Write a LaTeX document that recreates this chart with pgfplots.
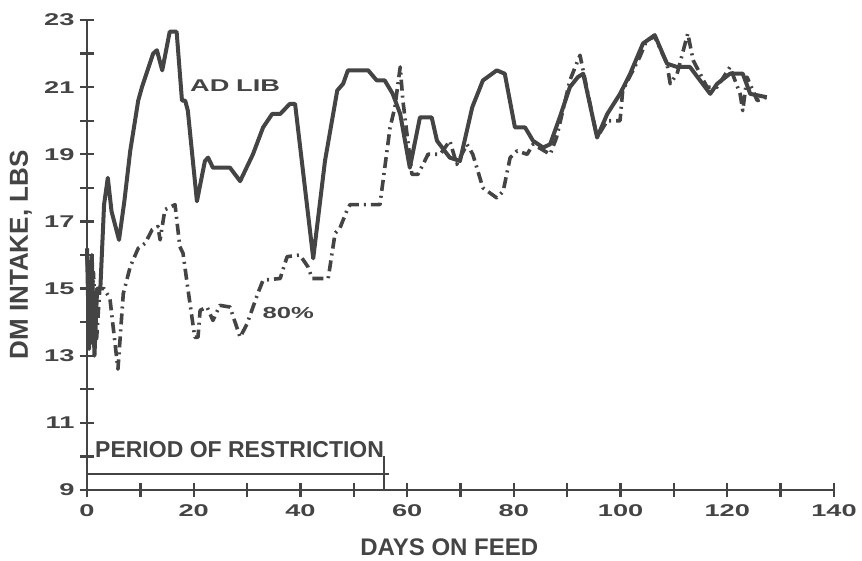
\documentclass[border=0pt]{standalone}
\usepackage{pgfplots}
\pgfplotsset{compat=1.18}
\usepackage{fontspec}
\setmainfont{Liberation Sans}
\newfontfamily\tickfont{Liberation Sans}[FakeStretch=1.6]
\definecolor{ink}{HTML}{444444}

% AD LIB (solid)
\pgfplotstableread{
d v
0 16.2
0.4 13.2
0.9 16.0
1.4 13.0
1.9 15.0
2.5 15.0
3.2 17.5
3.9 18.3
4.6 17.3
6.0 16.45
7.0 17.6
8.1 19.1
9.6 20.6
10.3 21.0
12.4 22.0
13.1 22.1
14.1 21.5
15.5 22.65
16.8 22.65
17.8 20.6
18.4 20.6
18.9 20.3
20.6 17.6
22.1 18.8
22.7 18.9
23.6 18.6
26.8 18.6
28.7 18.2
31.1 19.0
33.0 19.8
34.7 20.2
36.2 20.2
38.0 20.5
39.0 20.5
42.4 15.9
44.6 18.8
46.9 20.9
48.0 21.1
48.9 21.5
52.7 21.5
54.3 21.2
55.8 21.2
57.3 20.8
58.7 20.2
60.5 18.6
62.4 20.1
64.6 20.1
65.6 19.4
68.0 18.9
69.9 18.8
72.2 20.4
74.2 21.2
76.8 21.5
78.3 21.4
80.2 19.8
82.1 19.8
83.6 19.4
85.5 19.2
86.8 19.3
88.6 20.1
90.5 21.0
92.0 21.3
93.0 21.4
95.6 19.5
97.5 20.2
99.9 20.8
101.8 21.4
104.2 22.3
106.4 22.55
108.7 21.7
110.6 21.6
113.0 21.6
114.9 21.2
116.8 20.8
118.1 21.1
120.5 21.4
122.9 21.4
124.3 20.8
127.4 20.7
}\adlib

% 80% (dash-dot)
\pgfplotstableread{
d v
0 16.0
0.6 13.3
1.2 15.5
1.8 13.5
2.4 15.0
3.2 15.0
4.3 14.7
5.8 12.6
6.8 14.85
8.1 15.65
9.6 16.2
10.9 16.35
12.2 16.75
13.3 16.85
13.7 16.45
14.6 17.35
16.5 17.5
17.4 16.25
18.0 16.05
18.9 15.0
20.2 13.55
20.8 13.55
21.2 14.35
22.5 14.45
23.6 14.05
24.9 14.5
26.8 14.45
28.7 13.55
30.0 13.95
32.0 14.85
33.0 15.25
36.2 15.3
37.5 15.95
39.9 16.0
41.4 15.65
42.2 15.3
45.2 15.3
46.5 16.65
47.4 16.8
48.9 17.4
49.3 17.5
54.9 17.5
56.8 19.8
57.7 20.4
58.7 21.6
59.2 20.6
60.9 18.4
62.0 18.4
63.0 18.7
63.9 19.0
66.2 19.0
68.0 19.4
69.3 18.7
71.2 19.3
72.3 19.0
74.2 18.0
76.8 17.7
78.0 17.9
79.3 18.9
80.6 19.1
82.5 19.0
83.6 19.3
86.8 19.0
88.0 19.5
90.5 21.2
91.5 21.6
92.4 21.95
94.8 20.1
95.6 19.5
97.5 20.0
99.9 20.0
100.4 20.9
103.6 21.9
104.9 22.4
106.4 22.5
108.7 21.7
109.3 21.1
110.6 21.4
112.6 22.6
113.6 21.8
116.2 21.0
118.1 21.0
120.5 21.6
122.4 20.8
122.9 20.3
123.7 21.3
125.6 20.6
127.4 20.7
}\restricted

\begin{document}
\begin{tikzpicture}[every node/.style={text=ink}]
\begin{axis}[
    scale only axis,
    width=747pt, height=470pt,
    xmin=0, xmax=140, ymin=9, ymax=23,
    axis lines*=left,
    axis line style={ink, line width=2.6pt},
    xtick={0,20,...,140},
    minor xtick={10,30,...,130},
    ytick={9,11,...,23},
    minor ytick={10,12,...,22},
    tick align=center,
    major tick length=14pt, minor tick length=14pt,
    tick style={ink, line width=2.4pt},
    /pgf/number format/assume math mode=true,
    ticklabel style={font=\tickfont\bfseries\fontsize{17}{17}\selectfont, text=ink},
    xticklabel style={yshift=-4pt},
    yticklabel style={xshift=-2pt},
    xlabel={DAYS ON FEED},
    ylabel={DM INTAKE, LBS},
    xlabel style={font=\bfseries\fontsize{24}{24}\selectfont,
        at={(axis description cs:0.485,0)}, anchor=base, yshift=-65pt},
    ylabel style={font=\bfseries\fontsize{26}{26}\selectfont,
        at={(axis description cs:0,0.5)}, anchor=base, yshift=59pt},
    clip=false,
]
\addplot[ink, line width=4pt, line join=round] table[x=d, y=v] {\adlib};
\addplot[ink, line width=3.6pt, line join=round,
    dash pattern=on 11pt off 5pt on 2pt off 5pt] table[x=d, y=v] {\restricted};
\draw[ink, line width=2pt] (axis cs:0,9.47) -- (axis cs:56.6,9.47);
\draw[ink, line width=1.6pt] (axis cs:55.7,9) -- (axis cs:55.7,10.0);
\node[anchor=south west, inner sep=0pt, font=\bfseries\fontsize{23}{23}\selectfont]
    at (axis cs:1.5,9.95) {PERIOD OF RESTRICTION};
\node[anchor=west, inner sep=0pt, font=\tickfont\bfseries\fontsize{17}{17}\selectfont]
    at (axis cs:19.3,21.05) {AD\hspace{0.4em}LIB};
\node[anchor=west, inner sep=0pt, font=\tickfont\bfseries\fontsize{16}{16}\selectfont]
    at (axis cs:32.9,14.27) {80\%};
\end{axis}
\pgfresetboundingbox
\useasboundingbox (-87pt,-70pt) rectangle (775pt,490pt);
\end{tikzpicture}
\end{document}
